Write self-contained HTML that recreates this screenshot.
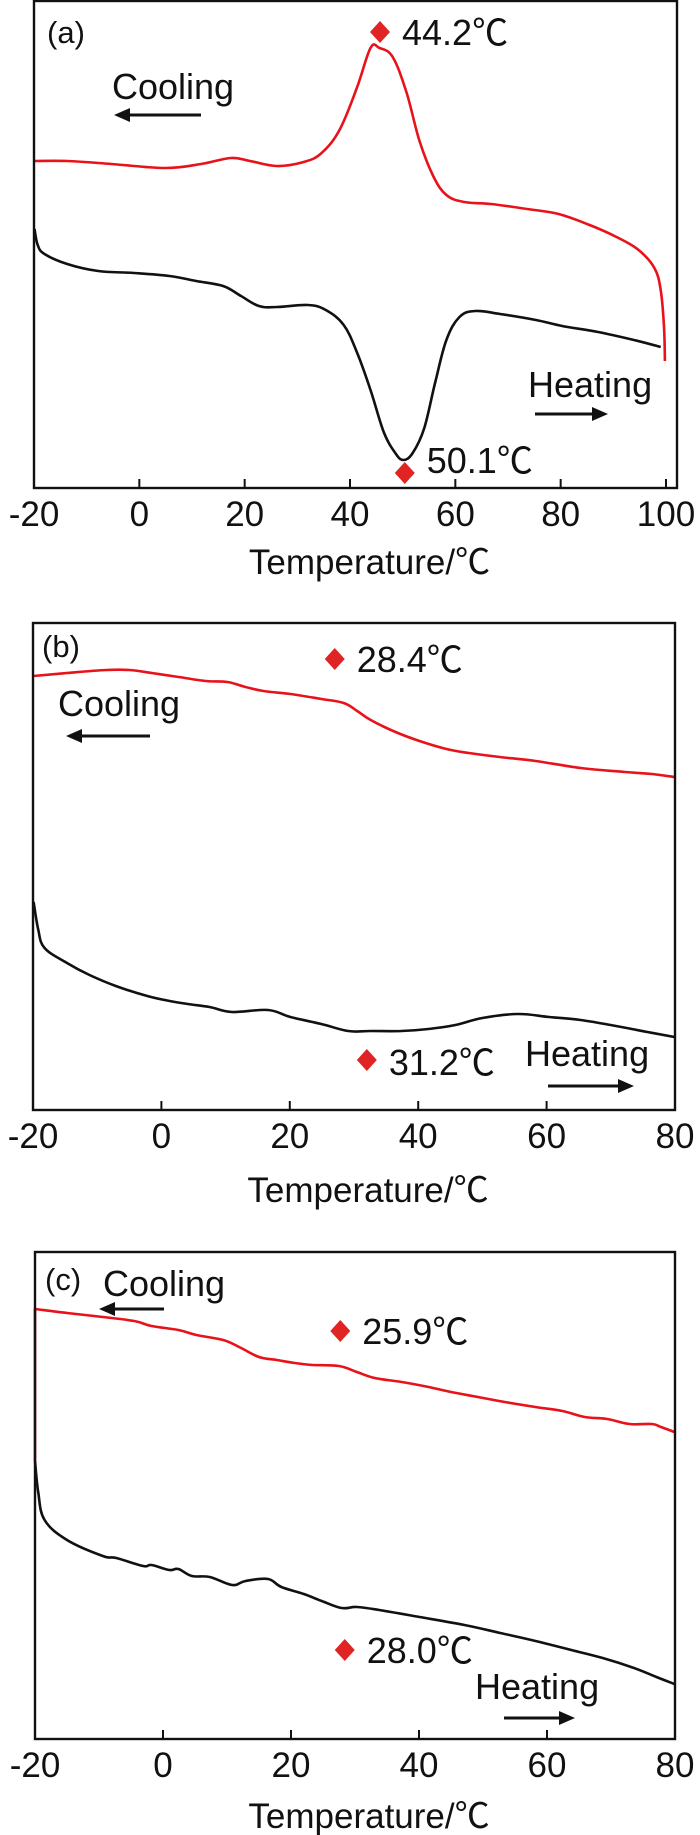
<!DOCTYPE html>
<html><head><meta charset="utf-8"><style>
html,body{margin:0;padding:0;background:#fff;}
svg{display:block;font-family:"Liberation Sans",Arial,"Noto Sans CJK SC",sans-serif;}
</style></head><body>
<svg id="fig" width="700" height="1835" viewBox="0 0 700 1835" xmlns="http://www.w3.org/2000/svg"></svg>
<script>
// ---- Panel (a) data ----
const aRedX=[-19.9,-13.7,-5.3,4.9,11.7,17.4,21.0,26.1,31.2,34.6,38.0,41.3,43.9,45.6,48.1,50.7,53.2,55.8,58.3,61.7,66.8,73.6,79.6,85.5,90.6,94.8,97.8,99.0,99.6,99.8];
const aRedY=[327,327,324,320,324,330,327,322,326,335,358,400,440,440,431,396,347,312,293,286,284,279,274,263,251,238,220,198,163,127];
const aBlkX=[-19.9,-19.3,-18.0,-13.7,-7.8,-1.0,5.7,10.8,15.9,19.3,22.7,26.1,32.0,35.4,38.8,41.3,43.9,46.4,48.6,50.1,51.9,54.1,56.2,58.3,60.8,63.8,68.5,75.3,80.3,87.1,93.9,99.0];
const aBlkY=[259,243,234,224,217,215,212,207,202,192,182,181,183,178,163,136,98,56,35,28,35,60,106,148,171,177,174,168,162,156,148,141];
const aTicks=[-20,0,20,40,60,80,100];
const aPeakT=[45.7,50.4];
const aPeakV=[456,15];
const aPeakLbl=["44.2℃","50.1℃"];
// ---- Panel (b) data ----
const bRedX=[-19.9,-14.7,-8.5,-5.0,-1.5,2.7,6.9,10.3,13.1,15.9,20.1,24.9,28.4,30.5,32.6,36.1,40.2,44.4,47.9,52.7,58.3,65.3,72.2,76.4,79.9];
const bRedY=[434,437,440,440,437,433,429,428,423,419,416,411,407,399,390,379,369,361,357,353,349,342,338,336,333];
const bBlkX=[-19.9,-19.2,-18.2,-14.7,-11.2,-7.1,-2.2,1.3,4.1,7.5,11.0,16.6,20.1,24.9,29.1,32.6,37.4,41.6,45.8,50.0,55.5,60.4,65.3,70.8,75.7,79.9];
const bBlkY=[208,181,162,147,135,124,114,109,106,103,98,100,93,86,79,79,79,81,85,92,96,93,90,84,78,73];
const bTicks=[-20,0,20,40,60,80];
const bPeakT=[27.0,32.0];
const bPeakV=[451,50];
const bPeakLbl=["28.4℃","31.2℃"];
// ---- Panel (c) data ----
const cRedX=[-20.0,-20.0,-15.0,-9.4,-4.5,-1.8,2.4,5.2,9.4,12.2,15.0,17.8,20.6,23.4,27.5,30.3,33.1,37.3,41.5,45.0,49.2,53.4,58.2,62.4,65.9,69.4,72.9,76.4,77.8,79.9];
const cRedY=[278,430,426,422,418,413,409,404,399,391,382,379,376,374,373,367,361,357,352,347,342,337,332,328,322,320,315,315,312,307];
const cBlkX=[-20.0,-19.5,-18.5,-15.0,-9.4,-7.3,-3.1,-1.8,1.0,2.4,4.5,7.3,10.8,12.9,16.4,18.5,22.0,24.8,27.9,30.3,33.8,40.1,47.1,52.7,58.2,63.8,68.7,73.6,77.1,79.9];
const cBlkY=[278,247,219,199,183,181,173,174,169,170,163,162,154,158,160,152,145,138,131,132,129,122,114,106,98,89,81,71,62,55];
const cTicks=[-20,0,20,40,60,80];
const cPeakT=[27.7,28.4];
const cPeakV=[408,89];
const cPeakLbl=["25.9℃","28.0℃"];

const NS="http://www.w3.org/2000/svg";
const svg=document.getElementById('fig');
function mk(tag,attrs,parent){const e=document.createElementNS(NS,tag);for(const k in attrs)e.setAttribute(k,attrs[k]);(parent||svg).appendChild(e);return e;}

function smoothPath(pts){
  let d='M'+pts[0][0].toFixed(1)+','+pts[0][1].toFixed(1);
  for(let i=0;i<pts.length-1;i++){
    let p0=pts[Math.max(0,i-1)],p1=pts[i],p2=pts[i+1],p3=pts[Math.min(pts.length-1,i+2)];
    if(Math.abs(p2[0]-p1[0])<0.5){d+=' L'+p2[0].toFixed(1)+','+p2[1].toFixed(1);continue;}
    if(Math.abs(p1[0]-p0[0])<0.5)p0=p1;
    if(Math.abs(p3[0]-p2[0])<0.5)p3=p2;
    const t=0.18;
    let c1=[p1[0]+(p2[0]-p0[0])*t,p1[1]+(p2[1]-p0[1])*t];
    let c2=[p2[0]-(p3[0]-p1[0])*t,p2[1]-(p3[1]-p1[1])*t];
    const lo=Math.min(p1[0],p2[0]),hi=Math.max(p1[0],p2[0]);
    c1[0]=Math.min(hi,Math.max(lo,c1[0]));c2[0]=Math.min(hi,Math.max(lo,c2[0]));
    d+=' C'+c1[0].toFixed(1)+','+c1[1].toFixed(1)+' '+c2[0].toFixed(1)+','+c2[1].toFixed(1)+' '+p2[0].toFixed(1)+','+p2[1].toFixed(1);
  }
  return d;
}

function panel(p){
  const g=mk('g',{});
  
  
  const sx=v=>p.x0+(v-p.xmin)/(p.xmax-p.xmin)*(p.x1-p.x0);
  const sy=v=>p.bottom-(v-p.ymin)/(p.ymax-p.ymin)*(p.bottom-p.top);
  const drawLine=(xs,ys,color,name)=>{
    const pts=xs.map((x,i)=>[sx(x),sy(ys[i])]);
    const pth=mk('path',{d:smoothPath(pts),fill:'none',stroke:color,'stroke-width':2.6,'stroke-linejoin':'round'},g);
    
    
  };
  drawLine(p.redX,p.redY,'#e8121a','cooling-curve');
  drawLine(p.blkX,p.blkY,'#111','heating-curve');
  const fr=mk('rect',{x:p.fx0,y:p.top,width:p.fx1-p.fx0,height:p.bottom-p.top,fill:'none',stroke:'#111','stroke-width':2.4},g);
  
  
  p.ticks.forEach(t=>{
    const x=sx(t);
    const tk=mk('line',{x1:x,x2:x,y1:p.bottom,y2:p.bottom-9,stroke:'#111','stroke-width':2},g);
    
    
    const tl=mk('text',{x:x,y:p.bottom+38,'font-size':35,'text-anchor':'middle',fill:'#111'},g);
    tl.textContent=String(t);
    
    
  });
  const ti=mk('text',{x:(p.fx0+p.fx1)/2+14,y:p.titleY,'font-size':35,'text-anchor':'middle',fill:'#111'},g);
  ti.textContent='Temperature/℃';
  
  
  const pl=mk('text',{x:p.lblX,y:p.lblY,'font-size':31,fill:'#111'},g);
  pl.textContent='('+p.id+')';
  
  
  p.peakT.forEach((t,i)=>{
    const cx=sx(t),cy=sy(p.peakV[i]);
    const dm=mk('path',{d:`M${cx},${cy-11} L${cx+10},${cy} L${cx},${cy+11} L${cx-10},${cy} Z`,fill:'#e02424'},g);
    
    
    const tx=mk('text',{x:cx+22,y:cy+13+(p.lblDy[i]||0),'font-size':36,fill:'#111'},g);
    tx.textContent=p.peakLbl[i];
    
    
  });
  const arrow=(x1,x2,y,name)=>{
    const dir=Math.sign(x2-x1);
    const ln=mk('line',{x1:x1,x2:x2-dir*12,y1:y,y2:y,stroke:'#111','stroke-width':3},g);
    
    
    const hd=mk('path',{d:`M${x2},${y} L${x2-dir*16},${y-7} L${x2-dir*16},${y+7} Z`,fill:'#111'},g);
    
    
  };
  const ct=mk('text',{x:p.cool[0],y:p.cool[1]+13,'font-size':36,fill:'#111'},g);
  ct.textContent='Cooling';
  
  
  arrow(p.coolA[0],p.coolA[1],p.coolA[2],'cooling-arrow');
  const ht=mk('text',{x:p.heat[0],y:p.heat[1]+13,'font-size':36,fill:'#111'},g);
  ht.textContent='Heating';
  
  
  arrow(p.heatA[0],p.heatA[1],p.heatA[2],'heating-arrow');
}

panel({id:'a',xmin:-20,xmax:100,x0:34,x1:666,fx0:34,fx1:677,top:1,bottom:488,ymin:0,ymax:487,
  redX:aRedX,redY:aRedY,blkX:aBlkX,blkY:aBlkY,ticks:aTicks,peakT:aPeakT,peakV:aPeakV,peakLbl:aPeakLbl,lblDy:[0,-13],
  titleY:574,lblX:47,lblY:43,cool:[112,86],coolA:[201,114,115],heat:[528,384],heatA:[535,608,414]});
panel({id:'b',xmin:-20,xmax:80,x0:33,x1:675,fx0:33,fx1:675,top:623,bottom:1110,ymin:0,ymax:487,
  redX:bRedX,redY:bRedY,blkX:bBlkX,blkY:bBlkY,ticks:bTicks,peakT:bPeakT,peakV:bPeakV,peakLbl:bPeakLbl,lblDy:[0,2],
  titleY:1202,lblX:42,lblY:657,cool:[58,703],coolA:[150,66,736],heat:[525,1053],heatA:[548,634,1086]});
panel({id:'c',xmin:-20,xmax:80,x0:35,x1:675,fx0:35,fx1:675,top:1252,bottom:1739,ymin:0,ymax:487,
  redX:cRedX,redY:cRedY,blkX:cBlkX,blkY:cBlkY,ticks:cTicks,peakT:cPeakT,peakV:cPeakV,peakLbl:cPeakLbl,lblDy:[0,0],
  titleY:1828,lblX:45,lblY:1290,cool:[103,1283],coolA:[164,99,1309],heat:[475,1686],heatA:[504,575,1718]});
</script>
</body></html>
